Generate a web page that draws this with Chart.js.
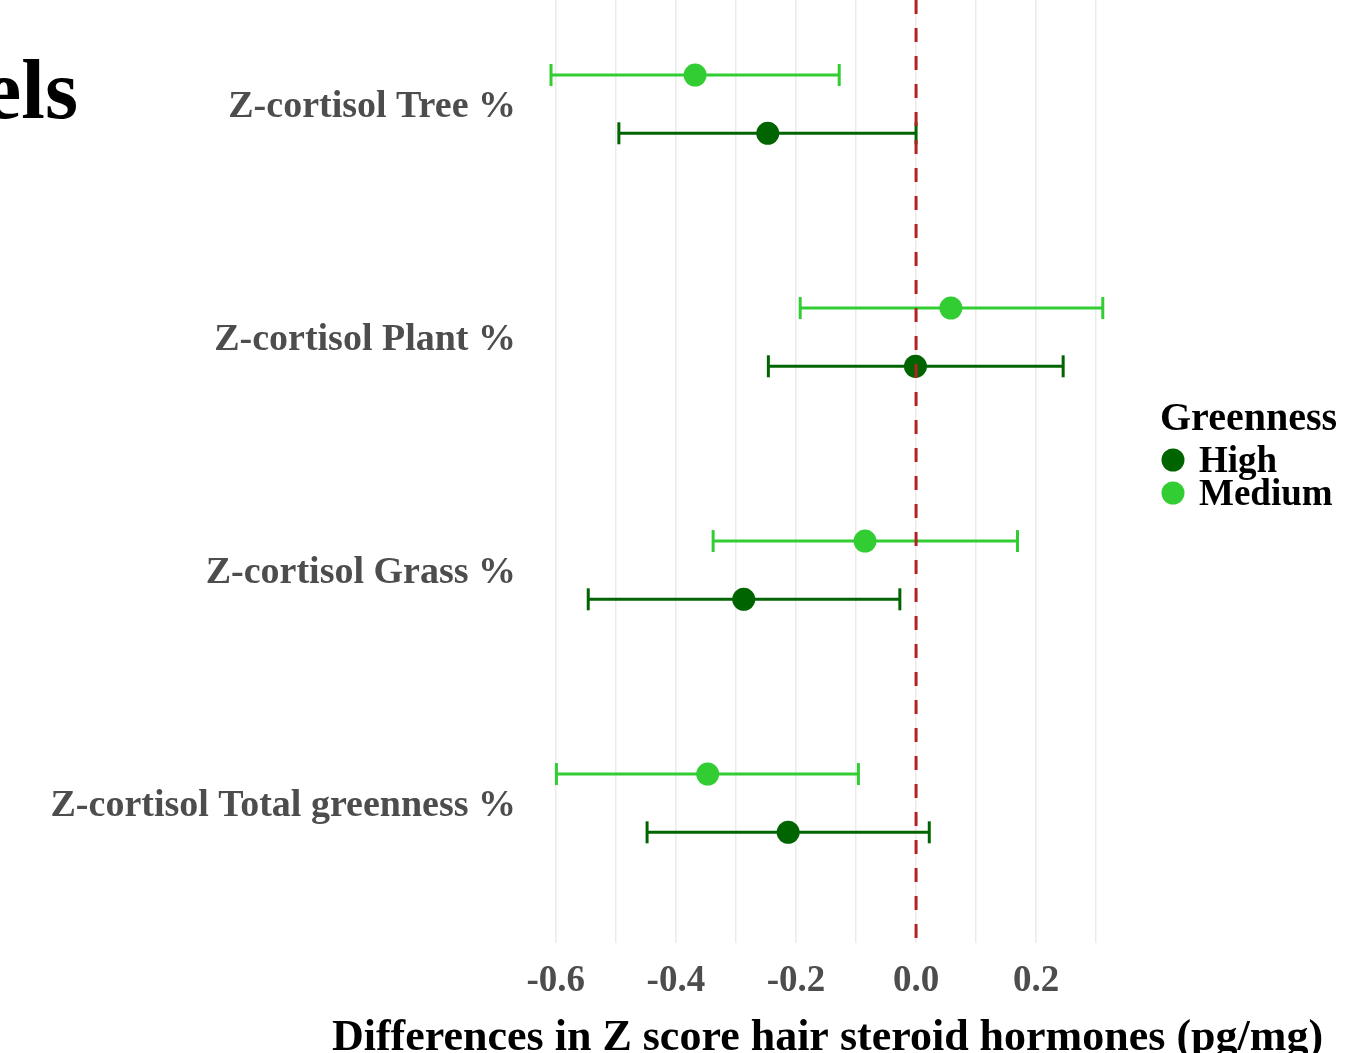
<!DOCTYPE html>
<html>
<head>
<meta charset="utf-8">
<script src="https://cdn.jsdelivr.net/npm/chart.js@4.4.1/dist/chart.umd.min.js"></script>
<style>
html, body { margin: 0; padding: 0; background: #fff; overflow: hidden; }
</style>
</head>
<body>
<canvas id="chartGreenness" width="1356" height="1053"></canvas>
<script>
const categories = ['Z-cortisol Tree %', 'Z-cortisol Plant %', 'Z-cortisol Grass %', 'Z-cortisol Total greenness %']
const highEst = [-0.247, -0.001, -0.287, -0.213]
const highLow = [-0.495, -0.246, -0.546, -0.448]
const highUp = [0.000, 0.245, -0.027, 0.022]
const medEst = [-0.368, 0.058, -0.085, -0.347]
const medLow = [-0.608, -0.193, -0.338, -0.599]
const medUp = [-0.128, 0.311, 0.169, -0.096]
const xTicks = [-0.6, -0.5, -0.4, -0.3, -0.2, -0.1, 0.0, 0.1, 0.2, 0.3]
const xTitle = 'Differences in Z score hair steroid hormones (pg/mg)'

const darkGreen = '#006400'
const limeGreen = '#32CD32'
const serif = "'Liberation Serif', 'Times New Roman', serif"
const dodge = 0.125

function rowY(i, group) {
    return i + 1 + (group === 'High' ? dodge : -dodge)
}

var datasets = []
function addGroup(name, est, low, up, color) {
    categories.forEach(function (c, i) {
        datasets.push({
            label: name + ' CI',
            data: [{x: low[i], y: rowY(i, name)}, {x: up[i], y: rowY(i, name)}],
            showLine: true,
            borderColor: color,
            borderWidth: 3,
            pointStyle: 'line',
            rotation: 90,
            pointRadius: 11,
            pointHoverRadius: 11,
            pointBorderWidth: 3,
            pointBorderColor: color,
            order: 2
        })
    })
    datasets.push({
        label: name,
        data: est.map(function (v, i) { return {x: v, y: rowY(i, name)} }),
        backgroundColor: color,
        borderColor: color,
        pointRadius: 11.5,
        pointHoverRadius: 11.5,
        pointBorderWidth: 0,
        order: 1
    })
}
addGroup('Medium', medEst, medLow, medUp, limeGreen)
addGroup('High', highEst, highLow, highUp, darkGreen)

// dashed reference line at zero, drawn over the marks like the original
const zeroLine = {
    id: 'zeroLine',
    afterDatasetsDraw: function (chart) {
        var ctx = chart.ctx, area = chart.chartArea
        var x = chart.scales.x.getPixelForValue(0)
        ctx.save()
        ctx.strokeStyle = '#B22222'
        ctx.lineWidth = 3
        ctx.setLineDash([14, 14])
        ctx.beginPath()
        ctx.moveTo(x, area.top)
        ctx.lineTo(x, area.bottom)
        ctx.stroke()
        ctx.restore()
    }
}

// legend, axis title (full width, not squeezed) and the cropped heading
const greenLegend = {
    id: 'greenLegend',
    afterDraw: function (chart) {
        var ctx = chart.ctx, area = chart.chartArea
        var lx = area.right + 29
        ctx.save()
        ctx.fillStyle = '#000'
        ctx.textAlign = 'left'
        ctx.textBaseline = 'alphabetic'
        ctx.font = 'bold 40px ' + serif
        ctx.fillText('Greenness', lx, 430)
        var items = [['High', darkGreen, 460], ['Medium', limeGreen, 493]]
        items.forEach(function (it) {
            ctx.fillStyle = it[1]
            ctx.beginPath()
            ctx.arc(lx + 13, it[2], 11.5, 0, Math.PI * 2)
            ctx.fill()
            ctx.fillStyle = '#000'
            ctx.font = 'bold 37px ' + serif
            ctx.textBaseline = 'middle'
            ctx.fillText(it[0], lx + 39, it[2] + 2)
        })
        ctx.textAlign = 'center'
        ctx.textBaseline = 'alphabetic'
        ctx.font = 'bold 44px ' + serif
        ctx.fillText(xTitle, (area.left + area.right) / 2, 1050)
        ctx.textAlign = 'right'
        ctx.font = 'bold 85px ' + serif
        ctx.fillText('els', 78, 118)
        ctx.restore()
    }
}

var ctxGreen = document.getElementById('chartGreenness').getContext('2d')
var chartGreenness = new Chart(ctxGreen, {
    type: 'scatter',
    data: { datasets: datasets },
    plugins: [zeroLine, greenLegend],
    options: {
        responsive: false,
        animation: false,
        devicePixelRatio: 1,
        layout: { autoPadding: false, padding: { left: 0, right: 225, top: 0, bottom: 0 } },
        plugins: {
            legend: { display: false },
            tooltip: { enabled: false }
        },
        scales: {
            x: {
                type: 'linear',
                min: -0.653,
                max: 0.358,
                afterBuildTicks: function (s) { s.ticks = xTicks.map(function (v) { return {value: v} }) },
                afterFit: function (s) { s.height = 110; s.paddingLeft = 0; s.paddingRight = 0 },
                grid: { color: '#ebebeb', lineWidth: 1.5, drawTicks: false },
                border: { display: false },
                ticks: {
                    padding: 16,
                    autoSkip: false,
                    maxRotation: 0,
                    color: '#4d4d4d',
                    font: { family: serif, size: 37, weight: 'bold' },
                    callback: function (v) { return Math.round(v * 10) % 2 === 0 ? v.toFixed(1) : '' }
                }
            },
            y: {
                type: 'linear',
                reverse: true,
                min: 0.553,
                max: 4.6,
                afterBuildTicks: function (s) { s.ticks = categories.map(function (c, i) { return {value: i + 1} }) },
                afterFit: function (s) { s.width = 524; s.paddingTop = 0; s.paddingBottom = 0 },
                grid: { display: false, drawTicks: false },
                border: { display: false },
                ticks: {
                    padding: 8,
                    labelOffset: 3,
                    autoSkip: false,
                    color: '#4d4d4d',
                    font: { family: serif, size: 38, weight: 'bold' },
                    callback: function (v) { return categories[Math.round(v) - 1] || '' }
                }
            }
        }
    }
})
</script>
</body>
</html>
